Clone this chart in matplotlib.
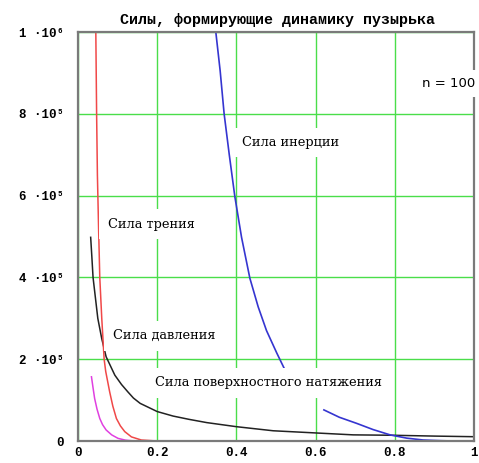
import matplotlib
matplotlib.use('Agg')
import matplotlib.pyplot as plt

# ---- data ----
title = "Силы, формирующие динамику пузырька"

friction_x = [0.044, 0.045, 0.047, 0.049, 0.052, 0.055, 0.060, 0.066, 0.070, 0.080, 0.088, 0.097, 0.107, 0.118, 0.135, 0.16, 0.20, 0.25]
friction_y = [1.1e6, 1.0e6, 8.0e5, 6.5e5, 5.2e5, 4.0e5, 3.0e5, 2.0e5, 1.7e5, 1.2e5, 8.5e4, 5.5e4, 3.7e4, 2.3e4, 1.0e4, 2.4e3, 0.0, 0.0]

pressure_x = [0.032, 0.035, 0.038, 0.044, 0.050, 0.060, 0.071, 0.093, 0.110, 0.126, 0.140, 0.157, 0.20, 0.24, 0.28, 0.325, 0.40, 0.493, 0.594, 0.695, 0.796, 0.90, 1.0]
pressure_y = [4.98e5, 4.5e5, 4.0e5, 3.5e5, 3.0e5, 2.5e5, 2.06e5, 1.61e5, 1.38e5, 1.2e5, 1.05e5, 9.2e4, 7.2e4, 6.1e4, 5.3e4, 4.5e4, 3.5e4, 2.5e4, 2.0e4, 1.5e4, 1.4e4, 1.2e4, 1.05e4]

surface_x = [0.034, 0.038, 0.042, 0.048, 0.055, 0.062, 0.071, 0.085, 0.101, 0.120, 0.143, 0.30, 0.60, 1.0]
surface_y = [1.57e5, 1.3e5, 1.04e5, 7.8e4, 5.5e4, 4.0e4, 2.7e4, 1.5e4, 6.5e3, 2.0e3, 0.0, 0.0, 0.0, 0.0]

inertia_x = [0.340, 0.348, 0.359, 0.369, 0.382, 0.396, 0.413, 0.434, 0.455, 0.476, 0.502, 0.525]
inertia_y = [1.1e6, 1.0e6, 9.05e5, 8.0e5, 7.0e5, 5.98e5, 4.98e5, 3.98e5, 3.28e5, 2.7e5, 2.15e5, 1.69e5]
inertia2_x = [0.621, 0.660, 0.704, 0.745, 0.788, 0.830, 0.872, 0.910, 0.947]
inertia2_y = [7.6e4, 5.8e4, 4.3e4, 2.8e4, 1.5e4, 7.0e3, 2.4e3, 1.0e3, 0.0]

xticks = [0, 0.2, 0.4, 0.6, 0.8, 1.0]
xtick_labels = ["0", "0.2", "0.4", "0.6", "0.8", "1"]
yticks = [0, 2e5, 4e5, 6e5, 8e5, 1e6]
ytick_labels = ["0", "2 ·10⁵", "4 ·10⁵", "6 ·10⁵", "8 ·10⁵", "1 ·10⁶"]

labels = [
    ("Сила инерции", 0.415, 7.3e5),
    ("Сила трения", 0.075, 5.3e5),
    ("Сила давления", 0.088, 2.57e5),
    ("Сила поверхностного натяжения", 0.195, 1.42e5),
]

mono = ['Liberation Mono', 'DejaVu Sans Mono']
serif = ['DejaVu Serif', 'Liberation Serif']

fig = plt.figure(figsize=(4.79, 4.63), dpi=100)
ax = fig.add_axes([78 / 479, 22 / 463, 396 / 479, 409 / 463])

ax.set_xlim(0, 1)
ax.set_ylim(0, 1e6)
ax.set_xticks(xticks)
ax.set_xticklabels(xtick_labels, fontfamily=mono, fontweight='bold', fontsize=9)
ax.set_yticks(yticks)
ax.set_yticklabels(ytick_labels, fontfamily=mono, fontweight='bold', fontsize=9)
ax.tick_params(length=0, pad=4)
ax.tick_params(axis='y', pad=10)
ax.grid(True, color='#4ade4a', lw=1.0)
ax.set_axisbelow(True)
for s in ax.spines.values():
    s.set_color('#7a7a7a')
    s.set_linewidth(1.6)

ax.plot(pressure_x, pressure_y, color='#222222', lw=1.1)
ax.plot(surface_x, surface_y, color='#e040e0', lw=1.1)
ax.plot(friction_x, friction_y, color='#f04848', lw=1.1)
ax.plot(inertia_x, inertia_y, color='#3535d0', lw=1.2)
ax.plot(inertia2_x, inertia2_y, color='#3535d0', lw=1.2)

for txt, x, y in labels:
    ax.text(x, y, txt, fontfamily=serif, fontsize=9.3, ha='left', va='center',
            zorder=6, bbox=dict(facecolor='white', edgecolor='none', pad=6))

ax.text(1.002, 0.875, "n = 100", transform=ax.transAxes, fontfamily=['DejaVu Sans'],
        fontsize=9.5, ha='right', va='center', zorder=6, clip_on=False,
        bbox=dict(facecolor='white', edgecolor='none', pad=5))

fig.text(277 / 479, 1 - 20 / 463, title, fontfamily=mono, fontweight='bold',
         fontsize=10.8, ha='center', va='center')

fig.savefig('out.png', dpi=100, facecolor='white')
